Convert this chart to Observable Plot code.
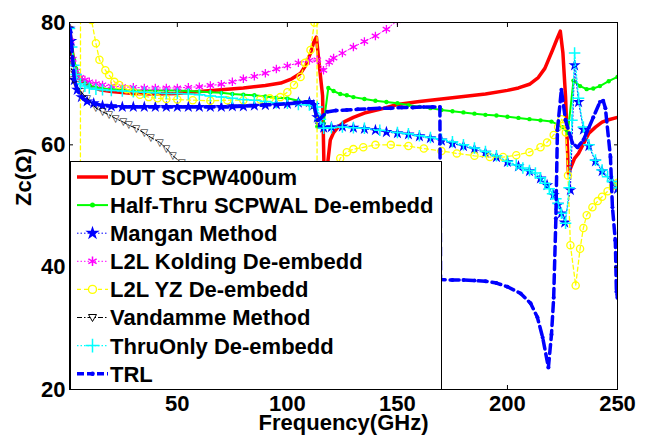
<!DOCTYPE html>
<html><head><meta charset="utf-8">
<script src="https://cdn.jsdelivr.net/npm/d3@7"></script>
<script src="https://cdn.jsdelivr.net/npm/@observablehq/plot@0.6"></script>
<style>
body{margin:0;background:#fff;}
#wrap{position:relative;width:646px;height:439px;font-family:"Liberation Sans",Arial,sans-serif;font-weight:bold;}
#legend{position:absolute;left:70px;top:161px;width:372px;height:229px;background:#fff;border:1px solid #000;box-sizing:border-box;}
#legend svg{display:block;}
</style></head><body><div id="wrap"></div>
<script>
// ---- data (frequency GHz, Zc Ohm) ----
const xTicks = [50, 100, 150, 200, 250];
const yTicks = [20, 40, 60, 80];
const xLabel = "Frequency(GHz)";
const yLabel = "Zc(\u03A9)";
const names = ["DUT SCPW400um","Half-Thru SCPWAL De-embedd","Mangan Method","L2L Kolding De-embedd","L2L YZ De-embedd","Vandamme Method","ThruOnly De-embedd","TRL"];

const dut = [[1,79.5],[2,76],[3,73.5],[4,72],[6,70.6],[8,70],[10,69.6],[15,69],[20,68.7],[30,68.4],[40,68.3],[50,68.4],[60,68.7],[70,69],[80,69.3],[90,69.7],[97,70.1],[102,70.8],[106,71.7],[108,72.8],[110.5,75],[112,76.8],[113.2,77.6],[114.5,73],[116,68],[116.6,57],[117.2,50],[118,56],[119.5,60.8],[121,62],[123,62.9],[126,63.8],[130,64.5],[135,65.2],[142,65.8],[150,66.6],[160,67.1],[170,67.5],[180,67.9],[190,68.3],[200,68.9],[205,69.3],[210,69.9],[214,71],[217,72.5],[220.5,75.5],[222.5,77.3],[224,78.6],[225.2,75],[226.4,67.8],[227.7,55.3],[229,56.5],[230.5,57.8],[232.3,58.6],[235,60.5],[237,61.9],[240,62.9],[243,63.7],[246,64.1],[250,64.5]];

const halfThru = [[1,79],[2,76.5],[3,74],[4,72.5],[6,71],[8,70.3],[10,69.8],[13,69.4],[16,69.2],[20,69.1],[25,69],[30,68.9],[35,68.9],[40,68.9],[45,68.9],[50,68.9],[55,68.8],[60,68.7],[65,68.6],[70,68.5],[75,68.3],[80,68.2],[85,68.1],[90,67.9],[95,67.7],[100,67.6],[105,67.2],[110,66.6],[112,66.2],[113.6,63],[115,62.9],[116.5,63.5],[118.6,69.3],[121,68.8],[124,68.3],[127,68.1],[130,67.8],[135,67.5],[140,67.2],[145,67],[150,66.8],[155,66.5],[160,66.2],[165,66],[170,65.7],[175,65.5],[180,65.3],[185,65.1],[190,64.9],[195,64.8],[200,64.6],[205,64.4],[210,64.2],[215,64],[220,63.8],[223,63.3],[225,62.9],[227.4,61.9],[230,70.5],[233,69.6],[236,69.1],[239,69.2],[242,69.6],[246,70.4],[250,71.1]];

const mangan = [[1,79],[1.8,77],[3.2,70.6],[4.5,69],[6.4,67.8],[9,67.1],[12,66.8],[16,66.4],[20,66.3],[25,66.2],[30,66.2],[35,66.2],[40,66.2],[45,66.2],[50,66.2],[55,66.2],[60,66.2],[65,66.2],[70,66.2],[75,66.3],[80,66.3],[85,66.4],[90,66.5],[95,66.6],[100,66.7],[105,66.9],[110,67],[112,66.5],[113.6,64.5],[115,63.3],[116.5,62.8],[120,62.9],[125,63],[130,62.8],[135,62.6],[140,62.4],[145,62.1],[150,61.9],[155,61.7],[160,61.4],[165,61.1],[170,60.7],[175,60.2],[180,59.8],[185,59.3],[190,58.7],[195,58],[200,57.2],[205,56.5],[210,55.7],[215,54.5],[218,53.4],[221,51.8],[223,50.2],[224.5,48.8],[226,47.3],[228.6,52.6],[230.5,73],[232.3,67],[234.5,62.5],[237,59.8],[240,57.3],[243,55.7],[247.7,53.8],[250,52.8]];

const kolding = [[0.8,80.5],[1.5,77],[2.5,74],[4,72],[6,71],[8,70.6],[10,70.3],[13,70],[16,69.8],[20,69.6],[25,69.5],[30,69.4],[35,69.3],[40,69.3],[45,69.3],[50,69.3],[55,69.4],[60,69.5],[65,69.7],[70,69.9],[75,70.3],[80,70.8],[85,71.2],[90,71.7],[95,72.4],[100,72.9],[105,73.4],[110,73.8],[113.6,73.9],[116.4,72.2],[119,73.5],[121,74.2],[125,75],[130,76],[135,76.9],[140,77.8],[145,78.9],[150,80.3]];

const l2lYZ = [[4,5],[5.8,-40],[6.2,200],[8,110],[10,86],[11,80.4],[13,76.6],[14.6,73.9],[17.3,72.2],[19,71.4],[21.4,70.3],[23.6,69.8],[27,69.1],[30,68.6],[33,68.2],[37,67.8],[41,67.6],[45,67.5],[50,67.4],[57,67.3],[65,67.2],[72.7,67.3],[80,67.3],[87.7,67.4],[92,67.6],[96.8,67.8],[100,68.6],[103,69.8],[106,71.1],[108,73.4],[110.5,75.5],[112.3,80],[113,90],[113.4,150],[113.6,-60],[114,0],[117,40],[120,52],[122,55.5],[124,57.8],[127,58.8],[130,59.3],[134.5,59.6],[140,60],[147,60],[155,59.8],[162,59.4],[170,59],[177,58.6],[185,58.2],[192,58],[198,58],[204,58.3],[210,58.8],[215,59.6],[218,60.4],[221,61.6],[223,62.9],[224.5,64.2],[225.5,63.5],[226.5,62],[227.5,55],[228.6,43.6],[231,37],[233,43],[234.5,46.4],[236,48.5],[238.6,49.8],[241,50.8],[243,51.5],[245.5,52.4],[248,53.3],[250,53.8]];

const vandamme = [[1,78.8],[1.8,72.5],[3,70.6],[4,69.8],[6.4,68.6],[9,67.6],[13,66],[16,65.4],[19,64.9],[22,64.3],[25.5,63.7],[28,63.2],[31.4,62.7],[35,61.9],[38,61.2],[42,60.4],[45,59.4],[48,58.2],[52,57],[60,54],[70,49.5],[80,44.5],[90,39],[100,33],[110,26.5],[120,19.5],[130,12]];

const thruOnly = [[1,79],[2,76],[3,73],[4,71.5],[6,70],[8,69.6],[10,69.3],[13,69.1],[16,69],[20,68.9],[25,68.8],[30,68.7],[35,68.6],[40,68.5],[45,68.4],[50,68.4],[55,68.3],[60,68.2],[65,68],[70,67.8],[75,67.6],[80,67.4],[85,67.3],[90,67.1],[95,66.9],[100,66.8],[105,66.6],[110,66.5],[113.6,66.2],[115,64.2],[116.5,62.7],[120,62.8],[125,62.9],[130,62.8],[135,62.7],[142,62.4],[150,62],[155,61.8],[160,61.5],[165,61.2],[170,60.9],[175,60.5],[180,60],[185,59.5],[190,58.9],[195,58.2],[200,57.3],[204,56.7],[207,56.2],[210,55.8],[212.7,55.4],[215,54.6],[217,53.7],[219,52.8],[220.5,52],[222,51.2],[223,50.4],[224.5,48.8],[226.4,47.2],[228,53],[229.3,64],[230.5,75],[232.3,67.6],[234.5,62.9],[237,60],[240,57.5],[243,55.9],[245.5,54.8],[247.7,54],[250,53]];

const trl = [[1,79],[1.8,77],[3.2,70.6],[4.5,69],[6.4,67.8],[9,67.1],[12,66.8],[16,66.4],[20,66.3],[25,66.2],[30,66.2],[35,66.2],[40,66.2],[45,66.2],[50,66.2],[55,66.2],[60,66.2],[65,66.2],[70,66.2],[75,66.2],[80,66.3],[85,66.4],[90,66.5],[95,66.6],[100,66.7],[105,66.9],[110,67],[112,66.6],[113.6,64],[115,64.3],[118,65.4],[122,65.6],[127,65.7],[132,65.8],[137,65.9],[142,66],[147,66],[152,66.1],[157,66.1],[162,66.2],[166,66.2],[169.3,66.2],[169.6,38],[175,37.9],[180,37.9],[185,37.8],[190,37.7],[195,37.4],[200,36.8],[206,35.7],[210.5,34.1],[213.6,31.8],[216,28.5],[218.6,23.6],[220,29],[221,35],[222,48],[222.7,62.4],[224.5,69],[226.4,64],[229.5,60.3],[231.8,59.6],[234.5,60.8],[237,62.8],[239,64.5],[242,67],[243.5,67.2],[244.5,66],[246.8,58],[247.7,49.8],[249,44.4],[249.5,36],[250,35]];

// ---- styles ----
const styles = [
  {data: dut,      color: "#ff0000", width: 3.5, dash: null,        marker: null},
  {data: halfThru, color: "#00ff00", width: 2,   dash: null,        marker: "dotG"},
  {data: mangan,   color: "#0000ff", width: 1,   dash: "1.5,2",     marker: "star"},
  {data: kolding,  color: "#ff00ff", width: 1,   dash: "1.5,2",     marker: "asterisk"},
  {data: l2lYZ,    color: "#ffff00", width: 1.3, dash: "4,3",       marker: "circle"},
  {data: vandamme, color: "#000000", width: 1,   dash: "5,2,1.5,2", marker: "tri"},
  {data: thruOnly, color: "#00ffff", width: 1.3, dash: "1.5,2",     marker: "plus"},
  {data: trl,      color: "#0000ff", width: 3.5, dash: "9,5",       marker: "dotT"}
];

const toRows = arr => arr.map(([f, z]) => ({f, z}));

function markerMark(s, rows) {
  const base = {x: "f", y: "z", clip: true};
  switch (s.marker) {
    case "dotG": return Plot.dot(rows, {...base, r: 2.2, fill: s.color});
    case "dotT": return Plot.dot(rows, {...base, r: 2, fill: s.color});
    case "star": return Plot.dot(rows, {...base, symbol: "star", r: 3.8, fill: s.color});
    case "asterisk": return Plot.dot(rows, {...base, symbol: "asterisk", r: 4, stroke: s.color, strokeWidth: 1.3});
    case "circle": return Plot.dot(rows, {...base, symbol: "circle", r: 3.6, stroke: s.color, strokeWidth: 1.3, fill: "none"});
    case "plus": return Plot.dot(rows, {...base, symbol: "plus", r: 3.8, stroke: s.color, strokeWidth: 1.5});
    case "tri": return Plot.text(rows, {...base, text: () => "\u25BD", fontSize: 10, fontFamily: "DejaVu Sans", fill: s.color, fontWeight: "normal"});
  }
  return null;
}

const marks = [];
styles.forEach(s => {
  const rows = toRows(s.data);
  marks.push(Plot.line(rows, {x: "f", y: "z", stroke: s.color, strokeWidth: s.width, strokeDasharray: s.dash, clip: true}));
  const m = markerMark(s, rows);
  if (m) marks.push(m);
});

const fs = 22;
const chart = Plot.plot({
  width: 646, height: 439,
  marginTop: 22, marginBottom: 50, marginLeft: 69, marginRight: 29,
  x: {domain: [1, 250]},
  y: {domain: [20, 80]},
  style: {fontFamily: "'Liberation Sans', Arial, sans-serif", fontWeight: "bold", background: "white", color: "black"},
  marks: [
    ...marks,
    Plot.frame({stroke: "black", strokeWidth: 1}),
    Plot.axisX(xTicks, {anchor: "bottom", tickSize: 4, dy: -4, fill: "none", label: null}),
    Plot.axisX(xTicks, {anchor: "top", tickSize: 4, dy: 4, fill: "none", label: null}),
    Plot.axisY(yTicks, {anchor: "left", tickSize: 4, dx: 4, fill: "none", label: null}),
    Plot.axisY(yTicks, {anchor: "right", tickSize: 4, dx: -4, fill: "none", label: null}),
    Plot.axisX(xTicks, {anchor: "bottom", tickSize: 0, tickPadding: 6, label: null, fontSize: fs}),
    Plot.axisY(yTicks, {anchor: "left", tickSize: 0, tickPadding: 4, label: null, fontSize: fs}),
    Plot.text([xLabel], {text: d => d, frameAnchor: "bottom", dy: 40, fontSize: fs, fontWeight: "bold"}),
    Plot.text([yLabel], {text: d => d, frameAnchor: "left", dx: -46, rotate: -90, fontSize: fs, fontWeight: "bold"})
  ]
});
const wrap = document.getElementById("wrap");
wrap.appendChild(chart);

// ---- legend (inside the axes, lower-left) ----
const leg = d3.select(wrap).append("div").attr("id", "legend");
const lsvg = leg.append("svg").attr("width", 370).attr("height", 227);
const symPath = (type, r) => d3.symbol(type, Math.PI * r * r)();
styles.forEach((s, i) => {
  const cy = 15 + i * 28.1;
  const g = lsvg.append("g").attr("transform", `translate(0,${cy})`);
  g.append("line").attr("x1", 6).attr("x2", 37).attr("y1", 0).attr("y2", 0)
    .attr("stroke", s.color).attr("stroke-width", s.width)
    .attr("stroke-dasharray", s.dash === "9,5" ? "7,3" : s.dash);
  const mx = 21.5;
  const gm = g.append("g").attr("transform", `translate(${mx},0)`);
  switch (s.marker) {
    case "dotG": gm.append("circle").attr("r", 2.5).attr("fill", s.color); break;
    case "dotT": gm.append("circle").attr("r", 2.3).attr("fill", s.color); break;
    case "star": gm.append("path").attr("d", symPath(d3.symbolStar, 4.5)).attr("fill", s.color); break;
    case "asterisk": gm.append("path").attr("d", symPath(d3.symbolAsterisk, 4.5)).attr("stroke", s.color).attr("stroke-width", 1.5).attr("fill", "none"); break;
    case "circle": gm.append("circle").attr("r", 4).attr("stroke", s.color).attr("stroke-width", 1.4).attr("fill", "white"); break;
    case "plus": gm.append("path").attr("d", symPath(d3.symbolPlus, 4.5)).attr("stroke", s.color).attr("stroke-width", 1.5).attr("fill", "none"); break;
    case "tri": gm.append("path").attr("d", "M-4,-3L4,-3L0,4Z").attr("stroke", s.color).attr("stroke-width", 1).attr("fill", "white"); break;
  }
  g.append("text").attr("x", 39).attr("y", 0).attr("dy", "0.36em")
    .style("font-size", fs + "px").style("font-weight", "bold")
    .style("font-family", "'Liberation Sans', Arial, sans-serif")
    .text(names[i]);
});
</script></body></html>
